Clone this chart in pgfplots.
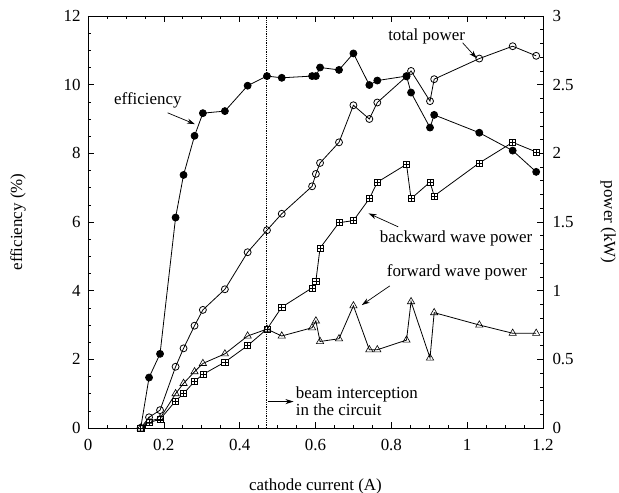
\documentclass[border=0pt]{standalone}
\usepackage{pgfplots}
\pgfplotsset{compat=1.18}
\usepackage{fontspec}
\setmainfont{Liberation Serif}
\usetikzlibrary{arrows.meta}
\pgfdeclareplotmark{boxplus}{%
  \pgfpathrectangle{\pgfpoint{-\pgfplotmarksize}{-\pgfplotmarksize}}{\pgfpoint{2\pgfplotmarksize}{2\pgfplotmarksize}}%
  \pgfusepathqfillstroke
  \pgfpathmoveto{\pgfpoint{-\pgfplotmarksize}{0pt}}\pgfpathlineto{\pgfpoint{\pgfplotmarksize}{0pt}}%
  \pgfpathmoveto{\pgfpoint{0pt}{-\pgfplotmarksize}}\pgfpathlineto{\pgfpoint{0pt}{\pgfplotmarksize}}%
  \pgfusepathqstroke}
\pgfplotstableread{
x eff tot bw fw
0.139 0 0 0 0
0.161 1.47 0.078 0.040 0.050
0.190 2.16 0.13 0.063 0.07
0.231 6.13 0.446 0.197 0.25
0.252 7.37 0.58 0.25 0.325
0.281 8.51 0.745 0.34 0.41
0.303 9.17 0.86 0.39 0.47
0.361 9.23 1.01 0.48 0.54
0.421 9.97 1.28 0.60 0.67
0.472 10.25 1.44 0.72 0.72
0.511 10.20 1.56 0.88 0.67
0.591 10.25 1.76 1.02 0.73
0.601 10.25 1.85 1.07 0.78
0.612 10.50 1.93 1.31 0.63
0.662 10.43 2.08 1.495 0.65
0.700 10.91 2.35 1.51 0.89
0.742 9.99 2.25 1.67 0.57
0.763 10.12 2.37 1.79 0.57
0.840 10.25 2.56 1.92 0.64
0.852 9.77 2.60 1.67 0.92
0.902 8.75 2.38 1.79 0.51
0.913 9.12 2.54 1.69 0.84
1.032 8.60 2.69 1.93 0.75
1.120 8.08 2.78 2.08 0.69
1.182 7.46 2.71 2.01 0.69
}\data
\begin{document}
\begin{tikzpicture}[x=1bp,y=1bp]
\pgfplotsset{every axis/.append style={
  scale only axis, width=455bp, height=412bp,
  at={(0,0)}, anchor=south west,
  xmin=0, xmax=1.2,
  font=\fontsize{17}{19}\selectfont,
  /pgf/number format/assume math mode=true,
  tick align=inside,
  major tick length=6bp, minor tick length=3bp,
  every tick/.style={black, line width=0.6pt},
  axis line style={line width=0.7pt},
  clip=false,
}}
\begin{axis}[
  ymin=0, ymax=12,
  xtick={0,0.2,...,1.2}, minor x tick num=3,
  ytick={0,2,...,12}, minor y tick num=3,
  xtick pos=both, ytick pos=left,
  xticklabel pos=lower,
  xlabel={cathode current (A)},
  ylabel={efficiency (\%)},
  xlabel style={yshift=-21bp},
  ylabel style={yshift=31bp},
  yticklabel style={xshift=-4bp},
  xticklabel style={yshift=-8bp},
]
\addplot[black, line width=0.8pt, densely dotted, forget plot] coordinates {(0.471,0) (0.471,12)};
\addplot[black, line width=0.8pt, mark=*, mark size=3.5pt] table[x=x, y=eff] {\data};
\addplot[black, mark=square*, mark size=3.2pt, only marks] coordinates {(0.139,0)};
\node at (axis cs:0.158,9.55) {efficiency};
\draw[-{Stealth[length=8bp,width=5bp]}, line width=0.7pt] (axis cs:0.210,9.18) -- (axis cs:0.282,8.85);
\node at (axis cs:0.893,11.40) {total power};
\draw[-{Stealth[length=8bp,width=5bp]}, line width=0.7pt] (axis cs:0.988,11.22) -- (axis cs:1.025,10.77);
\node at (axis cs:0.971,5.53) {backward wave power};
\draw[-{Stealth[length=8bp,width=5bp]}, line width=0.7pt] (axis cs:0.818,5.86) -- (axis cs:0.740,6.25);
\node at (axis cs:0.973,4.52) {forward wave power};
\draw[-{Stealth[length=8bp,width=5bp]}, line width=0.7pt] (axis cs:0.796,4.14) -- (axis cs:0.722,3.58);
\node[anchor=west, align=left, inner sep=0pt, font=\fontsize{17}{17}\selectfont] at (axis cs:0.548,0.77) {beam interception\\in the circuit};
\draw[-{Stealth[length=8bp,width=5bp]}, line width=0.7pt] (axis cs:0.476,0.77) -- (axis cs:0.542,0.77);
\end{axis}
\begin{axis}[
  ymin=0, ymax=3,
  axis y line*=right, hide x axis,
  ytick={0,0.5,...,3}, minor y tick num=4,
  ylabel={power (kW)},
  ylabel style={rotate=180, yshift=20bp},
  yticklabel style={xshift=6bp},
]
\addplot[black, line width=0.8pt, mark=o, mark size=3.5pt, mark options={fill=white}] table[x=x, y=tot] {\data};
\addplot[black, line width=0.8pt, mark=boxplus, mark size=3.1pt, mark options={fill=white, line width=0.6pt}] table[x=x, y=bw] {\data};
\addplot[black, line width=0.8pt, mark=triangle, mark size=4.2pt, mark options={fill=white, line width=0.6pt}] table[x=x, y=fw] {\data};
\end{axis}
\pgfresetboundingbox
\path (-88bp,-65bp) rectangle (531bp,428bp);
\end{tikzpicture}
\end{document}
